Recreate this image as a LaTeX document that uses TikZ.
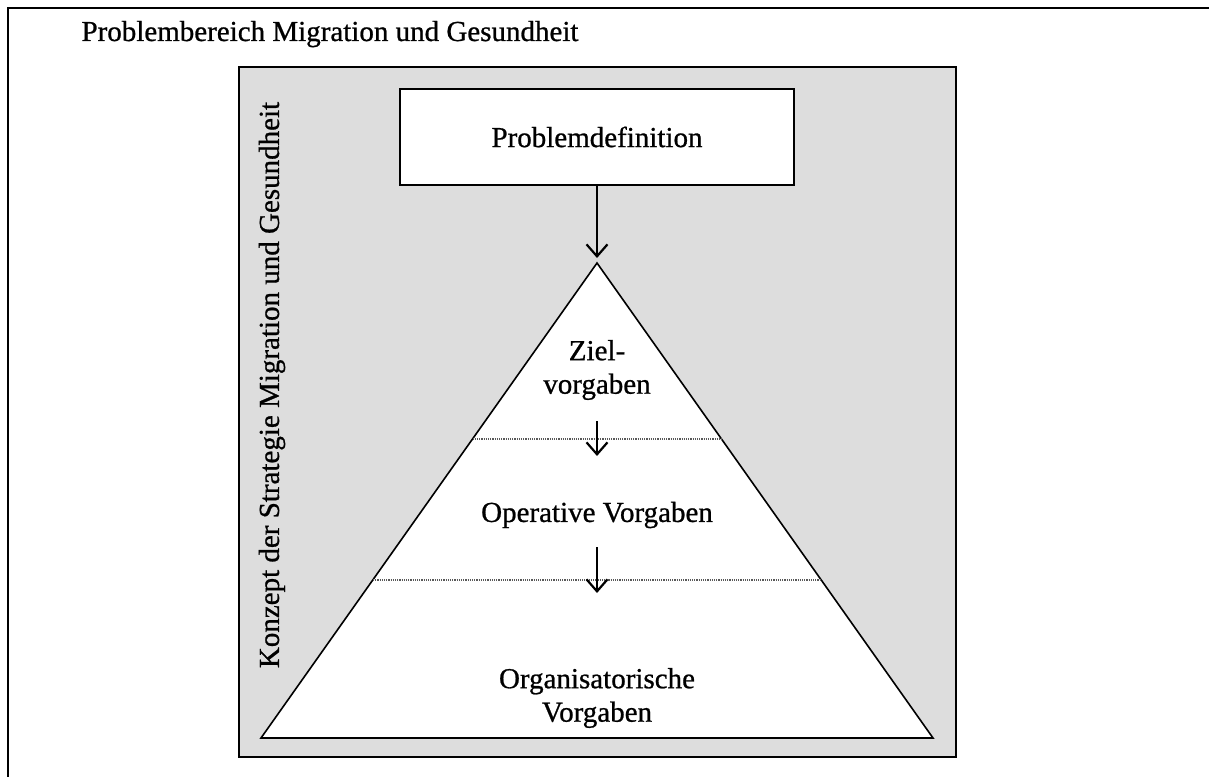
\documentclass[tikz,border=0pt]{standalone}
\usepackage{fontspec}
\setmainfont{Liberation Serif}
\newfontfamily\diagfont[FakeBold=0.8]{Liberation Serif}
\usepackage{xcolor}
\usetikzlibrary{positioning,arrows.meta}
\definecolor{panelgray}{HTML}{DDDDDD}

\begin{document}
\begin{tikzpicture}[
    x=1pt, y=-1pt,
    txt/.style    = {font=\diagfont\fontsize{29}{33.5}\selectfont,align=center},
    probbox/.style= {draw,line width=2pt,fill=white,minimum width=394pt,minimum height=96pt,font=\diagfont\fontsize{29}{34}\selectfont},
    arr/.style    = {line width=2.2pt,-{Straight Barb[length=12pt,width=21pt]}},
    sep/.style    = {gray!70!black,line width=1.2pt,densely dotted}
  ]
  \useasboundingbox (0,0) rectangle (1209,776);

  \draw[line width=2.5pt] (8,790) -- (8,8) -- (1220,8);
  \node[txt,anchor=base west] (title) at (78,41) {Problembereich Migration und Gesundheit};

  \draw[line width=2pt,fill=panelgray] (239,67) rectangle (956,757);
  \node[txt,rotate=90] (konzept) at (272,385) {Konzept der Strategie Migration und Gesundheit};

  \node[probbox] (prob) at (597,137) {Problemdefinition};

  \coordinate (apex)  at (597,263);
  \coordinate (baseL) at (261,738);
  \coordinate (baseR) at (933,738);
  \draw[line width=1.6pt,fill=white] (apex) -- (baseL) -- (baseR) -- cycle;

  \draw[sep] (472.5,439) -- (721.5,439);
  \draw[sep] (373,580) -- (821,580);

  \node[txt] (ziel)  at (597,370) {Ziel-\\vorgaben};
  \node[txt] (oper)  at (597,515) {Operative Vorgaben};
  \node[txt] (orga)  at (597,698) {Organisatorische\\Vorgaben};

  \coordinate (a1s) at (597,421);
  \coordinate (a1e) at (597,456);
  \coordinate (a2s) at (597,547);
  \coordinate (a2e) at (597,593);

  \draw[arr,shorten >=5pt] (prob) -- (apex);
  \draw[arr] (a1s) -- (a1e);
  \draw[arr] (a2s) -- (a2e);
\end{tikzpicture}
\end{document}
